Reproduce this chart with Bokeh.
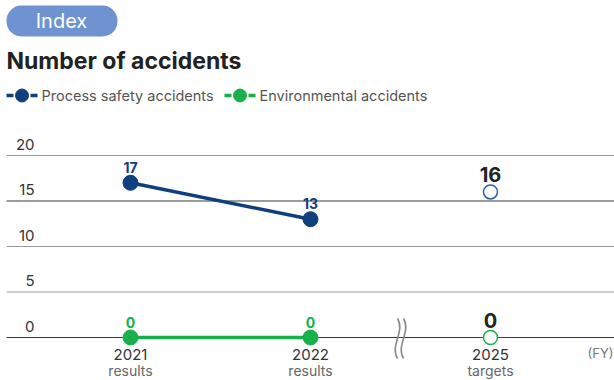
from bokeh.plotting import figure
from bokeh.models import Range1d
from bokeh.core.properties import value
from bokeh.embed import file_html
from bokeh.resources import INLINE

# ---- data ----
categories = ["2021", "2022", "2025"]
category_sub = ["results", "results", "targets"]
process_safety = [17, 13]          # 2021, 2022 results
environmental = [0, 0]
process_target = 16                # 2025 target
environmental_target = 0
y_ticks = [0, 5, 10, 15, 20]
series_names = ["Process safety accidents", "Environmental accidents"]

BLUE = "#0f3f7c"
BLUE_T = "#2c5f9e"
GREEN = "#17b04b"
FONT = "Inter"

W, H = 614, 380
# layout (pixels) -> data coordinate helpers
X0, DX = 130.0, 180.0   # pixel of first category, pixel spacing
Y0, DY = 337.0, 9.1     # pixel of value 0, pixels per unit

def dx(px):
    return (px - X0) / DX

def dy(py):
    return (Y0 - py) / DY

p = figure(width=W, height=H, output_backend="svg", toolbar_location=None,
           x_range=Range1d(dx(0), dx(W)), y_range=Range1d(dy(H), dy(0)),
           x_axis_type=None, y_axis_type=None, min_border=0,
           outline_line_color=None, background_fill_color="white",
           border_fill_color="white")
p.xgrid.visible = False
p.ygrid.visible = False

xs = list(range(len(categories)))

# gridlines
for t in y_ticks:
    dark = t in (0, 15)
    p.segment(x0=[dx(6)], y0=[t], x1=[dx(W)], y1=[t],
              line_color="#3a3a3a" if dark else "#9a9a9a", line_width=1.2)
    p.text(x=[dx(34)], y=[t], text=[str(t)], text_align="right",
           text_baseline="bottom", y_offset=-6, text_font=value(FONT),
           text_font_size="15px", text_color="#333333")

# break symbol between 2022 and 2025
for off in (-3, 3):
    cx = dx(400 + off)
    p.bezier(x0=[cx], y0=[dy(318)], x1=[cx], y1=[dy(358)],
             cx0=[cx + 8 / DX], cy0=[dy(331)], cx1=[cx - 8 / DX], cy1=[dy(345)],
             line_color="#8a8a8a", line_width=1.6)

# series lines + points
p.line(xs[:2], process_safety, line_color=BLUE, line_width=3.5)
p.scatter(xs[:2], process_safety, size=15, fill_color=BLUE, line_color=BLUE)
p.line(xs[:2], environmental, line_color=GREEN, line_width=3.5)
p.scatter(xs[:2], environmental, size=15, fill_color=GREEN, line_color=GREEN)

# targets
p.scatter([xs[2]], [process_target], size=14, fill_color="white",
          line_color=BLUE_T, line_width=1.5)
p.scatter([xs[2]], [environmental_target], size=14, fill_color="white",
          line_color=GREEN, line_width=1.5)

# value labels
p.text(xs[:2], process_safety, text=[str(v) for v in process_safety],
       text_align="center", text_baseline="bottom", y_offset=-10,
       text_font=value(FONT), text_font_style="bold", text_font_size="14px",
       text_color=BLUE)
p.text(xs[:2], environmental, text=[str(v) for v in environmental],
       text_align="center", text_baseline="bottom", y_offset=-10,
       text_font=value(FONT), text_font_style="bold", text_font_size="14px",
       text_color=GREEN)
p.text([xs[2], xs[2]], [process_target, environmental_target],
       text=[str(process_target), str(environmental_target)],
       text_align="center", text_baseline="bottom", y_offset=-10,
       text_font=value(FONT), text_font_style="bold", text_font_size="20px",
       text_color="#222222")

# category labels
p.text(xs, [dy(354)] * 3, text=categories, text_align="center",
       text_baseline="middle", text_font=value(FONT), text_font_size="15px",
       text_color="#333333")
p.text(xs, [dy(370)] * 3, text=category_sub, text_align="center",
       text_baseline="middle", text_font=value(FONT), text_font_size="14px",
       text_color="#666666")
p.text([dx(613)], [dy(352)], text=["(FY)"], text_align="right",
       text_baseline="middle", text_font=value(FONT), text_font_size="13px",
       text_color="#777777")

# header pill
p.quad(left=[dx(6)], right=[dx(117)], top=[dy(5)], bottom=[dy(36)],
       fill_color="#6f93d0", line_color=None, border_radius=15)
p.text([dx(61)], [dy(20.5)], text=["Index"], text_align="center",
       text_baseline="middle", text_font=value(FONT), text_font_size="20px",
       text_color="white")

# title
p.text([dx(6)], [dy(60)], text=["Number of accidents"], text_align="left",
       text_baseline="middle", text_font=value(FONT), text_font_style="bold",
       text_font_size="23px", text_color="#222222")

# legend
for name, col, x_start in zip(series_names, [BLUE, GREEN], [6, 224]):
    ly = dy(95)
    p.segment(x0=[dx(x_start)], y0=[ly], x1=[dx(x_start + 7)], y1=[ly],
              line_color=col, line_width=3.5)
    p.segment(x0=[dx(x_start + 24)], y0=[ly], x1=[dx(x_start + 31)], y1=[ly],
              line_color=col, line_width=3.5)
    p.scatter([dx(x_start + 15.5)], [ly], size=13, fill_color=col, line_color=col)
    p.text([dx(x_start + 35)], [ly], text=[name], text_align="left",
           text_baseline="middle", text_font=value(FONT), text_font_size="14.5px",
           text_color="#555555")

open("out.html", "w").write(file_html(p, INLINE))
